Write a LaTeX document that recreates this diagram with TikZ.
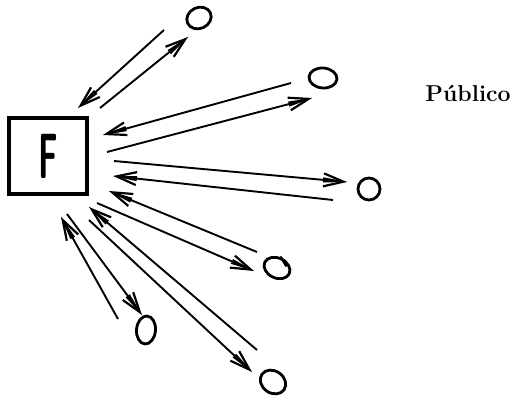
\documentclass[tikz,border=0pt]{standalone}
\usepackage{fontspec}
\usetikzlibrary{arrows.meta,shapes.geometric,decorations.markings}
\tikzset{
  msgarrow/.style={line width=1.9pt,
    -{Straight Barb[length=20pt,width=13pt,line width=2.2pt]},
    postaction={decorate, decoration={markings,
      mark=at position 1 with {\fill (-24pt,-2.6pt) -- (0pt,0pt) -- (-24pt,2.6pt) -- cycle;}}}},
  rcvr/.style={ellipse, draw, line width=2.8pt, inner sep=0pt},
  senderbox/.style={draw, line width=3.6pt, minimum width=78pt, minimum height=76pt, inner sep=0pt},
}
\begin{document}
\begin{tikzpicture}[x=1pt,y=-1pt]
\useasboundingbox (0,0) rectangle (518,396);
% sender box
\node[senderbox] (F) at (48,156) {\sffamily\bfseries\fontsize{64}{64}\selectfont\scalebox{0.5}[1]{F}};
% receivers
\node[rcvr, minimum width=25pt, minimum height=21pt, rotate=25] (c1) at (199,18) {};
\node[rcvr, minimum width=28pt, minimum height=20pt, rotate=-5] (c2) at (323,78) {};
\node[rcvr, minimum width=22pt, minimum height=22pt] (c3) at (369,189) {};
\node[rcvr, minimum width=27pt, minimum height=20pt, rotate=-25] (c4) at (277,268) {};
\node[rcvr, minimum width=19pt, minimum height=28pt, rotate=-5] (c5) at (146,330) {};
\node[rcvr, minimum width=27pt, minimum height=22pt, rotate=-35] (c6) at (273,382) {};
\draw[line width=2.2pt, line cap=round] (281,257) -- (286,266);
% label
\node[font=\bfseries\fontsize{23}{26}\selectfont] (pub) at (468,93) {Público};
% endpoints
\coordinate (a1s) at (164,30);  \coordinate (a1e) at (78,108);
\coordinate (b1s) at (100,108); \coordinate (b1e) at (188,37);
\coordinate (a2s) at (291,83);  \coordinate (a2e) at (103,135);
\coordinate (b2s) at (107,152); \coordinate (b2e) at (312,98);
\coordinate (b3s) at (114,161); \coordinate (b3e) at (347,182);
\coordinate (a3s) at (333,200); \coordinate (a3e) at (113,176);
\coordinate (a4s) at (257,252); \coordinate (a4e) at (109,191);
\coordinate (b4s) at (97,203);  \coordinate (b4e) at (254,271);
\coordinate (a5s) at (118,319); \coordinate (a5e) at (61,217);
\coordinate (b5s) at (67,214);  \coordinate (b5e) at (142,315);
\coordinate (a6s) at (257,350); \coordinate (a6e) at (89,207);
\coordinate (b6s) at (89,220);  \coordinate (b6e) at (252,372);
% connectors
\draw[msgarrow] (a1s) -- (a1e);
\draw[msgarrow] (b1s) -- (b1e);
\draw[msgarrow] (a2s) -- (a2e);
\draw[msgarrow] (b2s) -- (b2e);
\draw[msgarrow] (a3s) -- (a3e);
\draw[msgarrow] (b3s) -- (b3e);
\draw[msgarrow] (a4s) -- (a4e);
\draw[msgarrow] (b4s) -- (b4e);
\draw[msgarrow] (a5s) -- (a5e);
\draw[msgarrow] (b5s) -- (b5e);
\draw[msgarrow] (a6s) -- (a6e);
\draw[msgarrow] (b6s) -- (b6e);
\end{tikzpicture}
\end{document}
